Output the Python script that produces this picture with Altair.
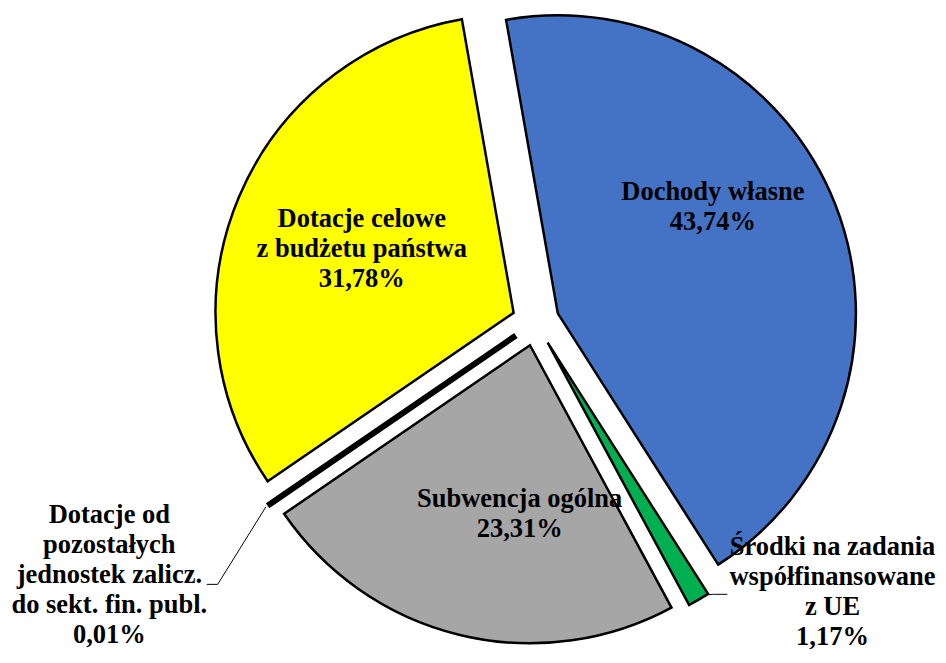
import math
import altair as alt
import pandas as pd

# ---------------- data ----------------
categories = [
    "Dochody własne",
    "Środki na zadania współfinansowane z UE",
    "Subwencja ogólna",
    "Dotacje od pozostałych jednostek zalicz. do sekt. fin. publ.",
    "Dotacje celowe z budżetu państwa",
]
values = [43.74, 1.17, 23.31, 0.01, 31.78]
label_names = [
    "Dochody własne",
    "Środki na zadania\nwspółfinansowane\nz UE",
    "Subwencja ogólna",
    "Dotacje od\npozostałych\njednostek zalicz.\ndo sekt. fin. publ.",
    "Dotacje celowe\nz budżetu państwa",
]

# ---------------- styles / layout ----------------
colors = ["#4472C4", "#00B050", "#A6A6A6", "#000000", "#FFFF00"]
stroke_widths = [2.5, 2.5, 2.5, 6, 2.5]
W, H = 936, 647
CX, CY = 531, 314          # pie centre (chart coords)
R = 300                    # radius
EXPLODE = 24               # explosion distance
START_DEG = -10            # start angle of first slice (clockwise from 12 o'clock)
# label anchor (angle from 12 o'clock clockwise, distance from centre) = centre of text block
label_polar = [(57.1, 212.5), (132.3, 404), (184.74, 193.7), (239.27, 499.1), (292.65, 189.6)]
FONT = "Liberation Serif"
FS = 26.67
LH = 30.2

total = sum(values)

df = pd.DataFrame({
    "cat": categories,
    "value": values,
    "color": colors,
    "sw": stroke_widths,
    "order": list(range(len(values))),
})

arcs = (
    alt.Chart(df)
    .transform_window(cum="sum(value)", sort=[alt.SortField("order")])
    .transform_calculate(start="datum.cum - datum.value", mid="datum.cum - datum.value / 2")
    .transform_calculate(ang=f"({START_DEG} + datum.mid / {total} * 360) * PI / 180")
    .transform_calculate(
        cx=f"{CX} + {EXPLODE} * sin(datum.ang)",
        cy=f"{CY} - {EXPLODE} * cos(datum.ang)",
    )
    .mark_arc(radius=R, stroke="black")
    .encode(
        theta=alt.Theta(
            "start:Q",
            stack=None,
            scale=alt.Scale(
                domain=[0, total],
                range=[math.radians(360 + START_DEG), math.radians(720 + START_DEG)],
            ),
        ),
        theta2="cum:Q",
        x=alt.X("cx:Q", scale=None),
        y=alt.Y("cy:Q", scale=None),
        color=alt.Color("color:N", scale=None),
        strokeWidth=alt.StrokeWidth("sw:Q", scale=None),
        tooltip=["cat:N", "value:Q"],
    )
)

# ---------------- labels ----------------
def pct(v):
    return f"{v:.2f}".replace(".", ",") + "%"

lab_rows = []
for name, v, (a, d) in zip(label_names, values, label_polar):
    ar = math.radians(a)
    text = name + "\n" + pct(v)
    n = text.count("\n") + 1
    lab_rows.append({
        "text": text,
        "lx": CX + d * math.sin(ar),
        # vega puts the first line at the anchor: shift so the block is centred
        "ly": CY - d * math.cos(ar) - (n - 1) * LH / 2,
    })
labels = (
    alt.Chart(pd.DataFrame(lab_rows))
    .mark_text(font=FONT, fontSize=FS, fontWeight="bold", lineHeight=LH,
               lineBreak="\n", align="center", baseline="middle", color="black")
    .encode(x=alt.X("lx:Q", scale=None), y=alt.Y("ly:Q", scale=None), text="text:N")
)

# ---------------- leader lines ----------------
cum = [sum(values[:i]) for i in range(len(values))]

def slice_point(i, frac, r):
    a = math.radians(START_DEG + (cum[i] + frac * values[i]) / total * 360)
    am = math.radians(START_DEG + (cum[i] + values[i] / 2) / total * 360)
    ox = CX + EXPLODE * math.sin(am)
    oy = CY - EXPLODE * math.cos(am)
    return ox + r * math.sin(a), oy - r * math.cos(a)

lead_rows = []
# black slice (index 3) -> label on the lower left
p0 = slice_point(3, 0.5, R + 5)
for k, (px, py) in enumerate([p0, (211, 578), (200, 578)]):
    lead_rows.append({"g": "a", "k": k, "px": px, "py": py})
# green slice (index 1) -> label on the lower right
p0 = slice_point(1, 0.0, R + 1)
for k, (px, py) in enumerate([p0, (710, 588), (724, 588)]):
    lead_rows.append({"g": "b", "k": k, "px": px, "py": py})

leaders = (
    alt.Chart(pd.DataFrame(lead_rows))
    .mark_line(color="black", strokeWidth=1)
    .encode(x=alt.X("px:Q", scale=None), y=alt.Y("py:Q", scale=None),
            detail="g:N", order="k:Q")
)

chart = (
    alt.layer(arcs, leaders, labels)
    .properties(width=W, height=H, autosize=alt.AutoSizeParams(type="none"), padding=0)
    .configure_view(stroke=None)
)

chart.save("out.html", embed_options={"renderer": "svg", "actions": False})
